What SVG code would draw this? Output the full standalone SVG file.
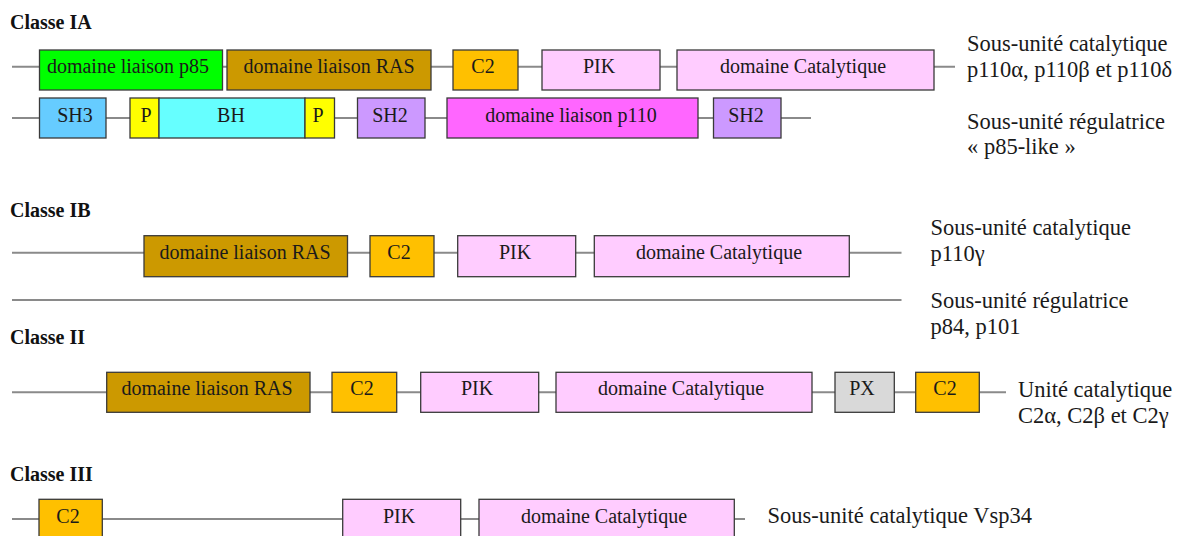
<svg xmlns="http://www.w3.org/2000/svg" width="1184" height="536" viewBox="0 0 1184 536">
<style>
  .bg{fill:#ffffff}
  .ln{stroke:#8a8a8a;stroke-width:2;fill:none}
  .bx{stroke:#3a3a3a;stroke-width:1.3}
  .t{font-family:"Liberation Serif","Times New Roman",serif;font-size:20px;fill:#1a1a1a;text-anchor:middle}
  .ti{font-family:"Liberation Serif","Times New Roman",serif;font-size:20px;font-weight:bold;fill:#111}
  .lb{font-family:"Liberation Serif","Times New Roman",serif;font-size:22.5px;fill:#1a1a1a}
  .green{fill:#00ff00}
  .ras{fill:#cc9900}
  .c2{fill:#ffc000}
  .pink{fill:#ffccff}
  .sh3{fill:#66ccff}
  .p{fill:#ffff00}
  .bh{fill:#66ffff}
  .sh2{fill:#cc99ff}
  .mag{fill:#ff66ff}
  .px{fill:#d9d9d9}
</style>
<rect class="bg" x="0" y="0" width="1184" height="536"/>

<g id="connectors">
  <line class="ln" x1="12" y1="66.7" x2="955" y2="66.7"/>
  <line class="ln" x1="12" y1="118" x2="811" y2="118"/>
  <line class="ln" x1="12" y1="252.7" x2="901.5" y2="252.7"/>
  <line class="ln" x1="12" y1="300" x2="901.5" y2="300"/>
  <line class="ln" x1="12" y1="392.3" x2="1006" y2="392.3"/>
  <line class="ln" x1="12" y1="519" x2="745" y2="519"/>
</g>

<g id="titles">
  <text class="ti" x="10" y="29">Classe IA</text>
  <text class="ti" x="10" y="216.7">Classe IB</text>
  <text class="ti" x="10" y="344">Classe II</text>
  <text class="ti" x="10" y="481">Classe III</text>
</g>

<!-- Classe IA catalytic -->
<g id="ia-p85bd"><rect class="bx green" x="39.5" y="50" width="183" height="40"/><text class="t" x="128" y="73">domaine liaison p85</text></g>
<g id="ia-rasbd"><rect class="bx ras" x="227" y="50" width="204" height="40"/><text class="t" x="329" y="73">domaine liaison RAS</text></g>
<g id="ia-c2"><rect class="bx c2" x="453" y="50" width="65" height="40"/><text class="t" x="483" y="73">C2</text></g>
<g id="ia-pik"><rect class="bx pink" x="542" y="50" width="118" height="40"/><text class="t" x="599" y="73">PIK</text></g>
<g id="ia-cat"><rect class="bx pink" x="677" y="50" width="257" height="40"/><text class="t" x="803" y="73">domaine Catalytique</text></g>
<g id="ia-cat-label">
  <text class="lb" x="967" y="51">Sous-unité catalytique</text>
  <text class="lb" x="967" y="77">p110α, p110β et p110δ</text>
</g>

<!-- Classe IA regulatory -->
<g id="ia-sh3"><rect class="bx sh3" x="39.5" y="98" width="66.5" height="40"/><text class="t" x="75" y="121.5">SH3</text></g>
<g id="ia-p1"><rect class="bx p" x="130" y="98" width="29" height="40"/><text class="t" x="146" y="121.5">P</text></g>
<g id="ia-bh"><rect class="bx bh" x="159" y="98" width="146" height="40"/><text class="t" x="231" y="121.5">BH</text></g>
<g id="ia-p2"><rect class="bx p" x="305" y="98" width="29.5" height="40"/><text class="t" x="318" y="121.5">P</text></g>
<g id="ia-sh2a"><rect class="bx sh2" x="357.5" y="98" width="67.5" height="40"/><text class="t" x="390" y="121.5">SH2</text></g>
<g id="ia-p110bd"><rect class="bx mag" x="447" y="98" width="251" height="40"/><text class="t" x="571" y="121.5">domaine liaison p110</text></g>
<g id="ia-sh2b"><rect class="bx sh2" x="713.5" y="98" width="67.5" height="40"/><text class="t" x="746" y="121.5">SH2</text></g>
<g id="ia-reg-label">
  <text class="lb" x="967" y="128.5">Sous-unité régulatrice</text>
  <text class="lb" x="967" y="154">« p85-like »</text>
</g>

<!-- Classe IB -->
<g id="ib-rasbd"><rect class="bx ras" x="144" y="235.7" width="203.5" height="41"/><text class="t" x="245" y="259">domaine liaison RAS</text></g>
<g id="ib-c2"><rect class="bx c2" x="370" y="235.7" width="64" height="41"/><text class="t" x="399" y="259">C2</text></g>
<g id="ib-pik"><rect class="bx pink" x="457.7" y="235.7" width="118" height="41"/><text class="t" x="515" y="259">PIK</text></g>
<g id="ib-cat"><rect class="bx pink" x="594.3" y="235.7" width="255" height="41"/><text class="t" x="719" y="259">domaine Catalytique</text></g>
<g id="ib-cat-label">
  <text class="lb" x="930.5" y="235">Sous-unité catalytique</text>
  <text class="lb" x="930.5" y="261">p110γ</text>
</g>
<g id="ib-reg-label">
  <text class="lb" x="930.5" y="308.3">Sous-unité régulatrice</text>
  <text class="lb" x="930.5" y="334">p84, p101</text>
</g>

<!-- Classe II -->
<g id="ii-rasbd"><rect class="bx ras" x="106.7" y="372.3" width="203.3" height="40"/><text class="t" x="207" y="395">domaine liaison RAS</text></g>
<g id="ii-c2a"><rect class="bx c2" x="332" y="372.3" width="64.7" height="40"/><text class="t" x="362" y="395">C2</text></g>
<g id="ii-pik"><rect class="bx pink" x="420.7" y="372.3" width="118" height="40"/><text class="t" x="477" y="395">PIK</text></g>
<g id="ii-cat"><rect class="bx pink" x="556" y="372.3" width="256" height="40"/><text class="t" x="681" y="395">domaine Catalytique</text></g>
<g id="ii-px"><rect class="bx px" x="835" y="372.3" width="59.3" height="40"/><text class="t" x="862" y="395">PX</text></g>
<g id="ii-c2b"><rect class="bx c2" x="915.7" y="372.3" width="63.6" height="40"/><text class="t" x="945" y="395">C2</text></g>
<g id="ii-label">
  <text class="lb" x="1018" y="396.7">Unité catalytique</text>
  <text class="lb" x="1018" y="423">C2α, C2β et C2γ</text>
</g>

<!-- Classe III -->
<g id="iii-c2"><rect class="bx c2" x="39" y="499.3" width="63.3" height="40"/><text class="t" x="68" y="523">C2</text></g>
<g id="iii-pik"><rect class="bx pink" x="342.7" y="499.3" width="118" height="40"/><text class="t" x="399" y="523">PIK</text></g>
<g id="iii-cat"><rect class="bx pink" x="479" y="499.3" width="255.3" height="40"/><text class="t" x="604" y="523">domaine Catalytique</text></g>
<g id="iii-label">
  <text class="lb" x="767.5" y="523.3">Sous-unité catalytique Vsp34</text>
</g>
</svg>
